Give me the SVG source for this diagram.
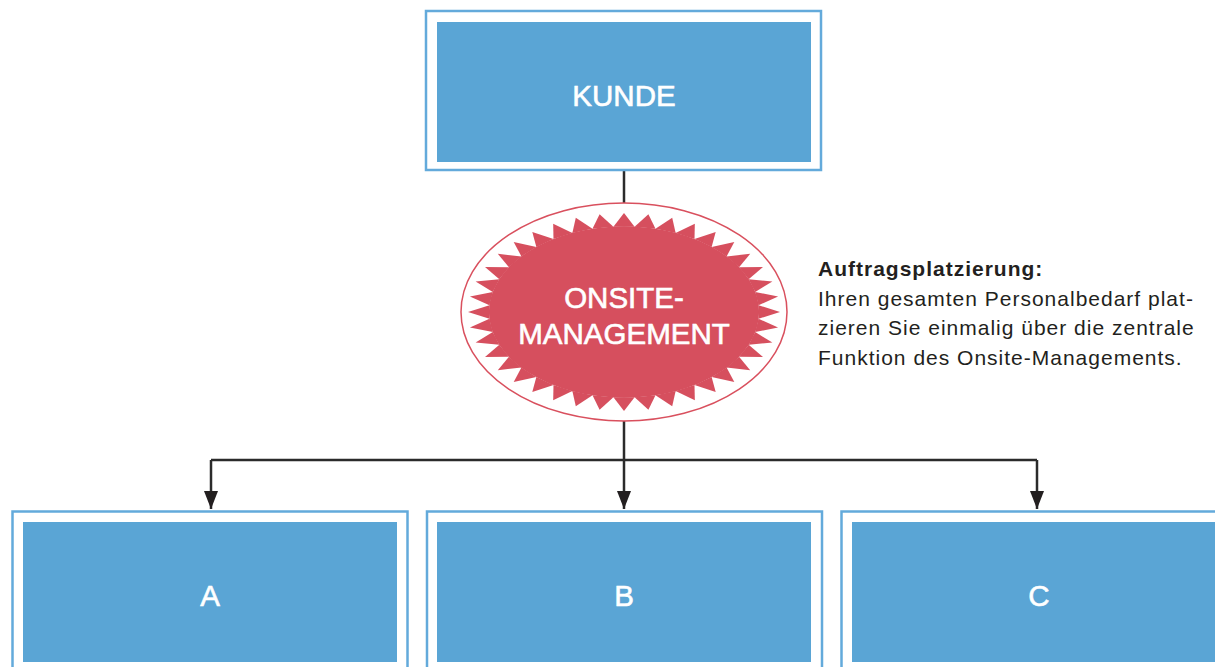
<svg xmlns="http://www.w3.org/2000/svg" xmlns:xlink="http://www.w3.org/1999/xlink" width="1215" height="667" viewBox="0 0 1215 667">
<style>
.frame{fill:#ffffff;stroke:#63aadb;stroke-width:2.5}
.box{fill:#5aa5d5}
.lbl{font-family:"Liberation Sans",Arial,sans-serif;font-size:29.5px;fill:#ffffff;stroke:#ffffff;stroke-width:0.6;text-anchor:middle}
.con{fill:none;stroke:#2b2b2b;stroke-width:2.5}
.note{font-family:"Liberation Sans",Arial,sans-serif;font-size:21px;fill:#231f20;letter-spacing:1px}
</style>
<defs>
<marker id="arr" markerUnits="userSpaceOnUse" viewBox="0 0 18 14" refX="18" refY="7" markerWidth="18" markerHeight="14" orient="auto">
<path d="M0,0 L18,7 L0,14 z" fill="#231f20"/>
</marker>
<polygon id="tooth" points="0.8623,-0.0679 1,0 0.8623,0.0679"/>
</defs>
<rect width="1215" height="667" fill="#ffffff"/>
<g id="connectors">
<path class="con" d="M624,171 V203"/>
<path class="con" d="M624,421 V509" marker-end="url(#arr)"/>
<path class="con" d="M211,460 H1037"/>
<path class="con" d="M211,460 V509" marker-end="url(#arr)"/>
<path class="con" d="M1037,460 V509" marker-end="url(#arr)"/>
</g>
<g id="kunde">
<rect class="frame" x="426" y="11" width="395" height="159"/>
<rect class="box" x="437" y="22" width="374" height="140"/>
<text class="lbl" x="624" y="106">KUNDE</text>
</g>
<g id="onsite">
<ellipse cx="624" cy="312" rx="163" ry="109" fill="#ffffff" stroke="#d9505e" stroke-width="1.5"/>
<g transform="translate(624,312) scale(156,99)" fill="#d64f5e">
<circle r="0.866"/>
<use xlink:href="#tooth" transform="rotate(0)"/>
<use xlink:href="#tooth" transform="rotate(9)"/>
<use xlink:href="#tooth" transform="rotate(18)"/>
<use xlink:href="#tooth" transform="rotate(27)"/>
<use xlink:href="#tooth" transform="rotate(36)"/>
<use xlink:href="#tooth" transform="rotate(45)"/>
<use xlink:href="#tooth" transform="rotate(54)"/>
<use xlink:href="#tooth" transform="rotate(63)"/>
<use xlink:href="#tooth" transform="rotate(72)"/>
<use xlink:href="#tooth" transform="rotate(81)"/>
<use xlink:href="#tooth" transform="rotate(90)"/>
<use xlink:href="#tooth" transform="rotate(99)"/>
<use xlink:href="#tooth" transform="rotate(108)"/>
<use xlink:href="#tooth" transform="rotate(117)"/>
<use xlink:href="#tooth" transform="rotate(126)"/>
<use xlink:href="#tooth" transform="rotate(135)"/>
<use xlink:href="#tooth" transform="rotate(144)"/>
<use xlink:href="#tooth" transform="rotate(153)"/>
<use xlink:href="#tooth" transform="rotate(162)"/>
<use xlink:href="#tooth" transform="rotate(171)"/>
<use xlink:href="#tooth" transform="rotate(180)"/>
<use xlink:href="#tooth" transform="rotate(189)"/>
<use xlink:href="#tooth" transform="rotate(198)"/>
<use xlink:href="#tooth" transform="rotate(207)"/>
<use xlink:href="#tooth" transform="rotate(216)"/>
<use xlink:href="#tooth" transform="rotate(225)"/>
<use xlink:href="#tooth" transform="rotate(234)"/>
<use xlink:href="#tooth" transform="rotate(243)"/>
<use xlink:href="#tooth" transform="rotate(252)"/>
<use xlink:href="#tooth" transform="rotate(261)"/>
<use xlink:href="#tooth" transform="rotate(270)"/>
<use xlink:href="#tooth" transform="rotate(279)"/>
<use xlink:href="#tooth" transform="rotate(288)"/>
<use xlink:href="#tooth" transform="rotate(297)"/>
<use xlink:href="#tooth" transform="rotate(306)"/>
<use xlink:href="#tooth" transform="rotate(315)"/>
<use xlink:href="#tooth" transform="rotate(324)"/>
<use xlink:href="#tooth" transform="rotate(333)"/>
<use xlink:href="#tooth" transform="rotate(342)"/>
<use xlink:href="#tooth" transform="rotate(351)"/>
</g>
<text class="lbl" x="624" y="308">ONSITE-</text>
<text class="lbl" x="624" y="344">MANAGEMENT</text>
</g>
<g id="note">
<text class="note" x="818" y="276" font-weight="bold" letter-spacing="0.8">Auftragsplatzierung:</text>
<text class="note" x="818" y="305.5">Ihren gesamten Personalbedarf plat-</text>
<text class="note" x="818" y="335">zieren Sie einmalig über die zentrale</text>
<text class="note" x="818" y="364.5">Funktion des Onsite-Managements.</text>
</g>
<g id="a">
<rect class="frame" x="12.5" y="511.5" width="395" height="170"/>
<rect class="box" x="23" y="522" width="374" height="140"/>
<text class="lbl" x="210" y="606">A</text>
</g>
<g id="b">
<rect class="frame" x="427" y="511.5" width="395" height="170"/>
<rect class="box" x="437" y="522" width="374" height="140"/>
<text class="lbl" x="624" y="606">B</text>
</g>
<g id="c">
<rect class="frame" x="841.5" y="511.5" width="395" height="170"/>
<rect class="box" x="852" y="522" width="374" height="140"/>
<text class="lbl" x="1039" y="606">C</text>
</g>
</svg>
